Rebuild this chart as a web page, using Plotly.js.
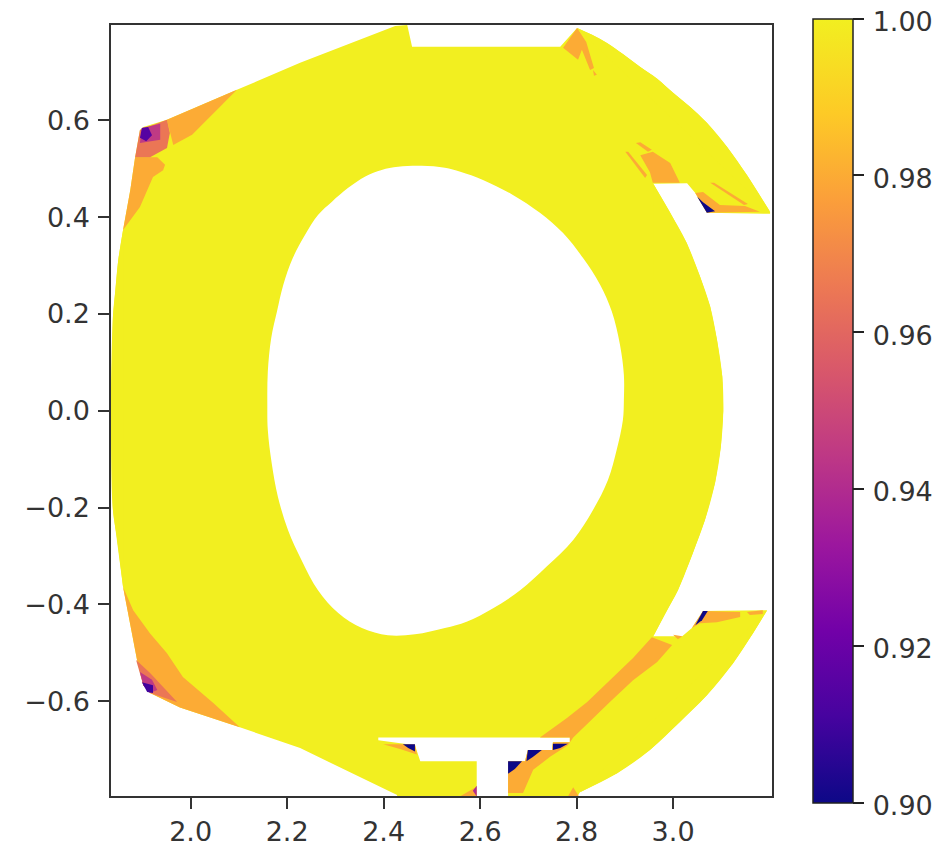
<!DOCTYPE html>
<html><head><meta charset="utf-8">
<script src="https://cdn.plot.ly/plotly-3.0.1.min.js"></script>
<style>html,body{margin:0;padding:0;background:#fff}#c{width:944px;height:847px}</style>
</head><body><div id="c"></div>
<script>
var xTicks=[2.0,2.2,2.4,2.6,2.8,3.0];
var xTickText=["2.0","2.2","2.4","2.6","2.8","3.0"];
var yTicks=[-0.6,-0.4,-0.2,0,0.2,0.4,0.6];
var yTickText=["\u22120.6","\u22120.4","\u22120.2","0.0","0.2","0.4","0.6"];
var cbTicks=[0.90,0.92,0.94,0.96,0.98,1.00];
var cbTickText=["0.90","0.92","0.94","0.96","0.98","1.00"];

// main region outline (value 1.0)
var bodyX=[1.839,1.844,1.850,1.860,1.875,1.885,1.895,1.902,1.951,2.096,2.227,2.424,2.449,2.459,2.766,2.801,2.832,2.863,2.896,2.932,2.967,3.000,3.035,3.070,3.112,3.153,3.201,3.201,3.070,3.046,3.029,2.959,2.994,3.028,3.056,3.077,3.091,3.102,3.104,3.099,3.087,3.066,3.041,3.010,2.984,2.959,3.019,3.039,3.062,3.195,3.166,3.124,3.070,3.014,2.952,2.884,2.807,2.797,2.658,2.658,2.693,2.699,2.749,2.751,2.786,2.786,2.389,2.389,2.465,2.476,2.593,2.593,2.428,2.428,2.227,2.102,1.978,1.916,1.902,1.889,1.860,1.847,1.839,1.835];
var bodyY=[0.194,0.2495,0.3115,0.3735,0.456,0.524,0.580,0.586,0.601,0.663,0.719,0.795,0.797,0.752,0.752,0.791,0.7766,0.760,0.737,0.710,0.686,0.657,0.628,0.595,0.545,0.487,0.411,0.407,0.409,0.450,0.470,0.469,0.409,0.347,0.277,0.215,0.146,0.070,0,-0.074,-0.149,-0.226,-0.294,-0.371,-0.418,-0.466,-0.466,-0.449,-0.414,-0.412,-0.459,-0.522,-0.588,-0.643,-0.701,-0.749,-0.788,-0.805,-0.805,-0.724,-0.724,-0.701,-0.701,-0.685,-0.685,-0.675,-0.675,-0.681,-0.691,-0.724,-0.724,-0.805,-0.805,-0.794,-0.697,-0.654,-0.613,-0.583,-0.567,-0.515,-0.364,-0.260,-0.205,0.001];
// smooth edge runs of the same region
var upperArcX=[2.801,2.832,2.863,2.896,2.932,2.967,3.000,3.035,3.070,3.112,3.153,3.201];
var upperArcY=[0.791,0.7766,0.760,0.737,0.710,0.686,0.657,0.628,0.595,0.545,0.487,0.411];
var innerArcX=[2.959,2.994,3.028,3.056,3.077,3.091,3.102,3.104,3.099,3.087,3.066,3.041,3.010,2.984,2.959];
var innerArcY=[0.469,0.409,0.347,0.277,0.215,0.146,0.070,0,-0.074,-0.149,-0.226,-0.294,-0.371,-0.418,-0.466];
var lowerArcX=[3.195,3.166,3.124,3.070,3.014,2.952,2.884,2.807];
var lowerArcY=[-0.412,-0.459,-0.522,-0.588,-0.643,-0.701,-0.749,-0.788];
var leftArcX=[1.860,1.850,1.844,1.839,1.835,1.839,1.847,1.860];
var leftArcY=[0.3735,0.3115,0.2495,0.194,0.001,-0.205,-0.260,-0.364];
// central hole
var holeX=[2.527,2.479,2.430,2.396,2.362,2.326,2.293,2.264,2.237,2.212,2.192,2.179,2.167,2.160,2.159,2.160,2.168,2.181,2.202,2.230,2.264,2.306,2.355,2.409,2.465,2.527,2.572,2.627,2.683,2.738,2.793,2.834,2.865,2.883,2.896,2.898,2.898,2.890,2.873,2.849,2.813,2.772,2.724,2.668,2.606,2.559,2.527];
var holeY=[0.502,0.506,0.504,0.4975,0.484,0.460,0.432,0.4045,0.363,0.316,0.260,0.205,0.150,0.081,0.012,-0.040,-0.108,-0.178,-0.247,-0.309,-0.371,-0.418,-0.449,-0.464,-0.462,-0.449,-0.436,-0.408,-0.371,-0.322,-0.267,-0.205,-0.143,-0.081,-0.019,0.022,0.074,0.136,0.205,0.260,0.316,0.367,0.409,0.446,0.477,0.494,0.502];

// patches: [x list, y list, value]
var patches=[
 // lower right band (0.98)
 [[2.724,2.780,2.822,2.876,2.917,2.956,2.998,2.967,2.917,2.869,2.822,2.793,2.782,2.745,2.710,2.689,2.658,2.658,2.693,2.699,2.749,2.751,2.786,2.786],[-0.675,-0.635,-0.602,-0.550,-0.511,-0.468,-0.484,-0.519,-0.557,-0.602,-0.646,-0.675,-0.691,-0.715,-0.742,-0.790,-0.790,-0.724,-0.724,-0.701,-0.701,-0.685,-0.685,-0.675],0.98],
 [[2.399,2.465,2.469,2.434],[-0.689,-0.689,-0.710,-0.699],0.98],
 [[2.558,2.579,2.591,2.593],[-0.797,-0.786,-0.778,-0.797],0.98],
 [[2.585,2.593,2.593],[-0.785,-0.775,-0.797],0.94],
 [[2.782,2.793,2.805],[-0.797,-0.778,-0.797],0.98],
 [[3.039,3.062,3.139,3.139,3.091,3.056],[-0.449,-0.414,-0.416,-0.426,-0.437,-0.439],0.98],
 [[3.153,3.186,3.186,3.159],[-0.416,-0.412,-0.420,-0.422],0.98],
 [[3.000,3.019,3.010],[-0.463,-0.466,-0.472],0.98],
 // top right
 [[2.801,2.772,2.803,2.811,2.828,2.836,2.820],[0.791,0.750,0.725,0.746,0.704,0.708,0.762],0.98],
 [[2.834,2.842,2.836],[0.704,0.694,0.692],0.98],
 [[2.932,2.958,2.994,3.014,2.958,2.952],[0.528,0.535,0.512,0.471,0.471,0.493],0.98],
 [[2.901,2.907,2.946,2.942],[0.535,0.535,0.487,0.481],0.98],
 [[2.923,2.932,2.956,2.948],[0.553,0.555,0.539,0.535],0.98],
 [[3.046,3.062,3.097,3.149,3.180,3.070],[0.450,0.452,0.425,0.423,0.411,0.409],0.98],
 [[3.077,3.085,3.155,3.147],[0.471,0.471,0.427,0.425],0.98],
 // top left
 [[2.096,2.003,1.964,1.957,1.951],[0.663,0.570,0.549,0.574,0.601],0.98],
 [[1.885,1.931,1.947,1.943,1.922,1.895,1.860,1.875],[0.524,0.524,0.508,0.497,0.483,0.421,0.3735,0.456],0.98],
 [[1.895,1.951,1.957,1.951,1.916,1.885],[0.580,0.601,0.574,0.543,0.524,0.524],0.965],
 [[1.899,1.937,1.937,1.895],[0.584,0.593,0.560,0.553],0.945],
 [[1.895,1.899,1.912,1.920,1.908],[0.564,0.584,0.586,0.569,0.557],0.915],
 // bottom left
 [[1.860,1.881,1.916,1.951,1.984,2.047,2.102,1.978,1.916,1.902,1.889],[-0.364,-0.412,-0.460,-0.501,-0.550,-0.604,-0.654,-0.613,-0.583,-0.567,-0.515],0.98],
 [[1.887,1.916,1.972,1.916,1.902],[-0.515,-0.542,-0.602,-0.583,-0.567],0.965],
 [[1.895,1.920,1.931,1.916,1.902],[-0.540,-0.556,-0.577,-0.583,-0.567],0.945],
 [[1.899,1.922,1.922,1.910],[-0.561,-0.567,-0.583,-0.581],0.91],
 // deepest notch corners
 [[2.658,2.687,2.672,2.658],[-0.724,-0.724,-0.740,-0.750],0.90],
 [[2.699,2.728,2.710,2.696],[-0.701,-0.701,-0.715,-0.724],0.90],
 [[2.751,2.782,2.766,2.751],[-0.688,-0.688,-0.697,-0.701],0.90],
 [[2.440,2.465,2.465,2.451],[-0.689,-0.689,-0.704,-0.697],0.90],
 [[3.062,3.072,3.060,3.046],[-0.414,-0.414,-0.433,-0.443],0.90],
 [[3.050,3.062,3.087,3.070],[0.442,0.431,0.412,0.409],0.90]
];

var plasma=[[0,"#0d0887"],[0.11,"#46039f"],[0.22,"#7201a8"],[0.33,"#9c179e"],[0.44,"#bd3786"],[0.55,"#d8576b"],[0.66,"#ed7953"],[0.77,"#fb9f3a"],[0.88,"#fdca26"],[1,"#f2ef20"]];
var cMin=0.90,cMax=1.00;
function hex(c){return [parseInt(c.substr(1,2),16),parseInt(c.substr(3,2),16),parseInt(c.substr(5,2),16)];}
function colorOf(v){
  var t=Math.max(0,Math.min(1,(v-cMin)/(cMax-cMin)));
  for(var i=1;i<plasma.length;i++){
    if(t<=plasma[i][0]){
      var a=plasma[i-1],b=plasma[i],f=(t-a[0])/(b[0]-a[0]),p=hex(a[1]),q=hex(b[1]);
      return "rgb("+[0,1,2].map(function(k){return Math.round(p[k]+(q[k]-p[k])*f);}).join(",")+")";
    }
  }
  return plasma[plasma.length-1][1];
}
function region(xs,ys,col,smooth){
  return {type:"scatter",mode:"lines",x:xs,y:ys,fill:"toself",fillcolor:col,line:{width:0,color:col,shape:smooth?"spline":"linear",smoothing:1},hoverinfo:"skip",showlegend:false};
}
var yellow=colorOf(1.0);
var traces=[
  region(bodyX,bodyY,yellow,false),
  region(upperArcX,upperArcY,yellow,true),
  region(innerArcX,innerArcY,yellow,true),
  region(lowerArcX,lowerArcY,yellow,true),
  region(leftArcX,leftArcY,yellow,true),
  region(holeX,holeY,"#ffffff",true)
];
patches.forEach(function(p){traces.push(region(p[0],p[1],colorOf(p[2]),false));});
traces.push({type:"scatter",mode:"markers",x:[2.0],y:[0],hoverinfo:"skip",showlegend:false,
  marker:{size:1,color:[1.0],cmin:cMin,cmax:cMax,colorscale:plasma,showscale:true,
    colorbar:{x:1.062,xanchor:"left",xpad:0,y:0.5,yanchor:"middle",ypad:0,len:784,lenmode:"pixels",thickness:40,thicknessmode:"pixels",
      tickmode:"array",tickvals:cbTicks,ticktext:cbTickText,ticks:"outside",ticklen:11,tickwidth:1.5,tickcolor:"#222",
      outlinewidth:1.5,outlinecolor:"#222",borderwidth:0,tickfont:{family:"DejaVu Sans",size:27,color:"#333"}}}});
var axisCommon={showgrid:false,zeroline:false,showline:true,mirror:true,linecolor:"#333",linewidth:1.5,ticks:"outside",ticklen:11,tickwidth:1.5,tickcolor:"#333",tickmode:"array",tickfont:{family:"DejaVu Sans",size:27,color:"#333"}};
var layout={width:944,height:847,margin:{l:111,r:172,t:25,b:51,pad:0,autoexpand:false},paper_bgcolor:"#fff",plot_bgcolor:"#fff",showlegend:false,
  xaxis:Object.assign({},axisCommon,{range:[1.835,3.205],tickvals:xTicks,ticktext:xTickText,ticklabelstandoff:0}),
  yaxis:Object.assign({},axisCommon,{range:[-0.796,0.797],tickvals:yTicks,ticktext:yTickText,ticklabelstandoff:3})};
Plotly.newPlot("c",traces,layout,{displayModeBar:false,responsive:false}).then(function(){
  document.querySelectorAll(".colorbar .cbaxis text").forEach(function(t){
    t.setAttribute("x",parseFloat(t.getAttribute("x")||0)+3);
    t.setAttribute("y",parseFloat(t.getAttribute("y")||0)+3);
  });
});
</script></body></html>
